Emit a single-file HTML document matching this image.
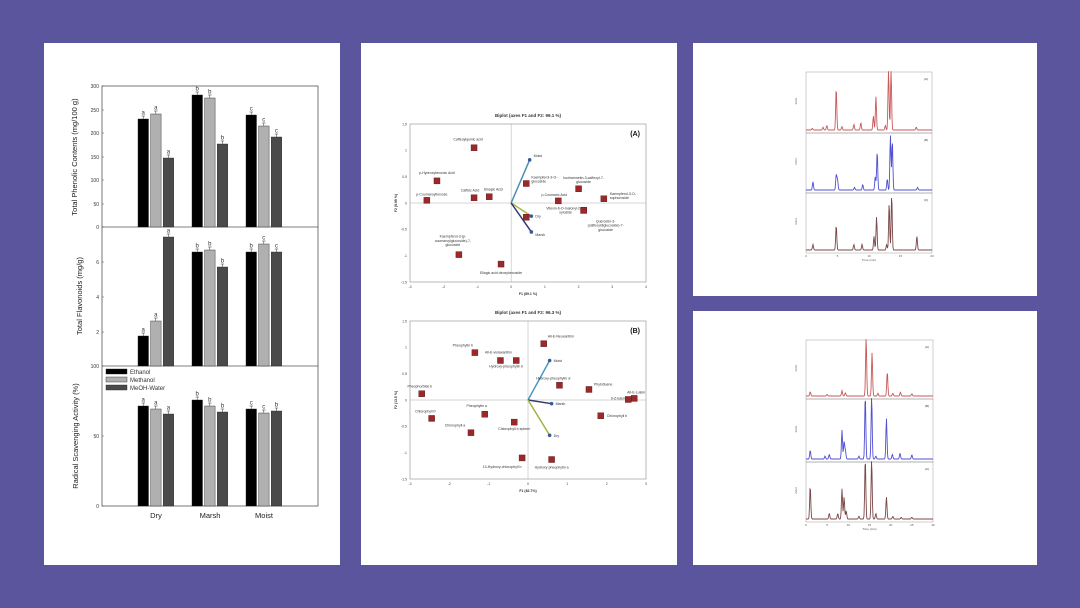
<!DOCTYPE html>
<html><head><meta charset="utf-8"><style>
html,body{margin:0;padding:0;background:#5a559c;}
svg{display:block;font-family:"Liberation Sans",sans-serif;}
</style></head><body>
<svg id="s" width="1080" height="608" viewBox="0 0 1080 608" xmlns="http://www.w3.org/2000/svg">
<rect width="1080" height="608" fill="#5a559c"/>
<rect x="44" y="43" width="296" height="522" fill="#fff"/>
<rect x="361" y="43" width="316" height="522" fill="#fff"/>
<rect x="693" y="43" width="344" height="253" fill="#fff"/>
<rect x="693" y="311" width="344" height="254" fill="#fff"/>
<g id="left"></g><g id="mid"></g><g id="right"></g>
</svg>
<script>
const NS="http://www.w3.org/2000/svg";
function el(p,t,a,txt){const e=document.createElementNS(NS,t);for(const k in a)e.setAttribute(k,a[k]);if(txt!==undefined)e.textContent=txt;p.appendChild(e);return e;}
// LEFT bar chart
const L=document.getElementById('left');
el(L,'rect',{x:102,y:86,width:216,height:420,fill:'none',stroke:'#555','stroke-width':0.8});
el(L,'line',{x1:102,y1:227,x2:318,y2:227,stroke:'#555','stroke-width':0.8});
el(L,'line',{x1:102,y1:366,x2:318,y2:366,stroke:'#555','stroke-width':0.8});
const gx=[138,192,246],cols=['#000','#b0b0b0','#4a4a4a'];
const tops=[[[119,114,158],[95,98,144],[115,126,137]],[[336,321,237],[252,250,267],[252,244,252]],[[406,409,414],[400,406,412],[409,413,411]]];
const bots=[227,366,506];
const letters=[[['a','a','a'],['b','b','b'],['c','c','c']],[['a','a','a'],['b','b','b'],['b','c','c']],[['a','a','a'],['b','b','b'],['c','c','b']]];
for(let p=0;p<3;p++)for(let g=0;g<3;g++)for(let b=0;b<3;b++){
 const x=gx[g]+b*12.6,t=tops[p][g][b];
 el(L,'rect',{x:x,y:t,width:10.5,height:bots[p]-t,fill:cols[b],stroke:'#222','stroke-width':0.4});
 el(L,'line',{x1:x+5.2,y1:t-3,x2:x+5.2,y2:t,stroke:'#333','stroke-width':0.5});
 el(L,'line',{x1:x+3.5,y1:t-3,x2:x+7,y2:t-3,stroke:'#333','stroke-width':0.5});
 el(L,'text',{x:x+5.2,y:t-4.5,'font-size':6,'text-anchor':'middle',fill:'#333'},letters[p][g][b]);
}
function tick(y,l){el(L,'line',{x1:102,y1:y,x2:104,y2:y,stroke:'#555','stroke-width':0.5});el(L,'text',{x:99,y:y+2,'font-size':5,'text-anchor':'end',fill:'#333'},l);}
[[300,86],[250,110],[200,133],[150,157],[100,180],[50,204],[0,227]].forEach(a=>tick(a[1],a[0]));
[[6,262],[4,297],[2,332]].forEach(a=>tick(a[1],a[0]));
tick(366,100);tick(436,50);tick(506,0);
[[77,157,'Total Phenolic Contents (mg/100 g)'],[82,296,'Total Flavonoids (mg/g)'],[78,436,'Radical Scavenging Activity (%)']].forEach(a=>{
 el(L,'text',{x:a[0],y:a[1],'font-size':7.5,'text-anchor':'middle',fill:'#222',transform:`rotate(-90 ${a[0]} ${a[1]})`},a[2]);});
[[156,'Dry'],[210,'Marsh'],[264,'Moist']].forEach(a=>el(L,'text',{x:a[0],y:518,'font-size':7.5,'text-anchor':'middle',fill:'#222'},a[1]));
['Ethanol','Methanol','MeOH-Water'].forEach((n,i)=>{el(L,'rect',{x:106,y:369+i*8,width:21,height:5,fill:cols[i],stroke:'#222','stroke-width':0.4});el(L,'text',{x:130,y:374+i*8,'font-size':6,fill:'#333'},n);});
// MIDDLE biplots
const M=document.getElementById('mid');
function biplot(fx0,fx1,fy0,fy1,xmin,xmax,title,tag,xl,yl,pts,arrows,xt){
 const sx=v=>fx0+(v-xmin)/(xmax-xmin)*(fx1-fx0), sy=v=>fy1-(v+1.5)/3*(fy1-fy0);
 el(M,'rect',{x:fx0,y:fy0,width:fx1-fx0,height:fy1-fy0,fill:'none',stroke:'#777','stroke-width':0.5});
 el(M,'line',{x1:fx0,y1:sy(0),x2:fx1,y2:sy(0),stroke:'#999','stroke-width':0.4});
 el(M,'line',{x1:sx(0),y1:fy0,x2:sx(0),y2:fy1,stroke:'#999','stroke-width':0.4});
 el(M,'text',{x:(fx0+fx1)/2,y:fy0-7,'font-size':4.5,'font-weight':'bold','text-anchor':'middle',fill:'#333'},title);
 el(M,'text',{x:fx1-6,y:fy0+12,'font-size':7,'font-weight':'bold','text-anchor':'end',fill:'#111'},tag);
 el(M,'text',{x:(fx0+fx1)/2,y:fy1+13,'font-size':3.5,'font-weight':'bold','text-anchor':'middle',fill:'#333'},xl);
 el(M,'text',{x:fx0-13,y:(fy0+fy1)/2,'font-size':3.5,'font-weight':'bold','text-anchor':'middle',fill:'#333',transform:`rotate(-90 ${fx0-13} ${(fy0+fy1)/2})`},yl);
 xt.forEach(v=>el(M,'text',{x:sx(v),y:fy1+6,'font-size':3.5,'text-anchor':'middle',fill:'#444'},v));
 [1.5,1,0.5,0,-0.5,-1,-1.5].forEach(v=>el(M,'text',{x:fx0-3,y:sy(v)+1.3,'font-size':3.5,'text-anchor':'end',fill:'#444'},v));
 arrows.forEach(a=>{el(M,'line',{x1:sx(0),y1:sy(0),x2:sx(a[0]),y2:sy(a[1]),stroke:a[2],'stroke-width':1.5});
  el(M,'circle',{cx:sx(a[0]),cy:sy(a[1]),r:1.8,fill:'#3a5a9a'});
  el(M,'text',{x:sx(a[0])+4,y:sy(a[1])+(a[4]||1.5),'font-size':3.5,fill:'#333'},a[3]);});
 pts.forEach(p=>{el(M,'rect',{x:sx(p[0])-3,y:sy(p[1])-3,width:6,height:6,fill:'#9a2a2a',stroke:'#5a1010','stroke-width':0.4});
  (p[2]||'').split('|').forEach((s,i)=>{if(s)el(M,'text',{x:sx(p[0])+p[3],y:sy(p[1])+p[4]+i*4.2,'font-size':3.5,'text-anchor':p[5]||'middle',fill:'#333'},s);});});
}
biplot(410,646,124,282,-3,4,'Biplot (axes F1 and F2: 99.1 %)','(A)','F1 (89.1 %)','F2 (9.99 %)',[
[-1.1,1.05,'Caffeoylquinic acid',-6,-7],[-2.2,0.42,'p-Hydroxybenzoic Acid',0,-7],[-2.5,0.05,'p-Coumaroylhexose',5,-5],
[-1.1,0.1,'Caffeic Acid',-4,-6],[-0.65,0.12,'Sinapic Acid',4,-6],[-1.55,-0.98,'Kaempferol-3-(p-|coumaroylglucoside)-7-|glucoside',-6,-17],
[-0.3,-1.16,'Ellagic acid deoxyhexoside',0,10],[0.45,0.37,'Kaempferol-3-O-|glucoside',5,-5,'start'],[1.4,0.04,'p-Coumaric Acid',-4,-5],
[2.0,0.27,'Isorhamnetin-3-caffeoyl-7-|glucoside',5,-10],[2.75,0.08,'Kaempferol-3-O-|sophoroside',6,-4,'start'],[2.15,-0.14,'Vitexin-6-O-malonyl-2-O-|xyloside',-18,-1],
[2.15,-0.14,'Quercetin-3-|(caffeoyldiglucoside)-7-|glucoside',22,12],[0.45,-0.27,'',0,0]],
[[0.55,0.82,'#4a8fb0','Moist',-3],[0.6,-0.25,'#a8b840','Dry'],[0.6,-0.55,'#303a70','Marsh',4]],[-3,-2,-1,0,1,2,3,4]);
biplot(410,646,321,479,-3,3,'Biplot (axes F1 and F2: 96.3 %)','(B)','F1 (82.7%)','F2 (13.5 %)',[
[-1.35,0.9,'Pheophytin b',-12,-6],[-0.7,0.75,'All-E-violaxanthin',-2,-7],[-0.3,0.75,'Hydroxy-pheophytin b',-10,7],
[-2.7,0.12,'Pheophorbide b',-2,-6],[-2.45,-0.35,'Chlorophyll b\'',-6,-6],[-1.1,-0.27,'Pheophytin a',-8,-7],
[-1.45,-0.62,'Chlorophyll a',-16,-6],[-0.35,-0.42,'Chlorophyll b epimer',0,8],[-0.15,-1.1,'13-Hydroxy-chlorophyll b',-20,10],
[0.4,1.07,'All-E-Neoxanthin',4,-6,'start'],[0.8,0.28,'Hydroxy-pheophytin a\'',-6,-6],[1.55,0.2,'Phytofluene',5,-4,'start'],
[2.7,0.03,'All-E-Lutein',2,-5],[2.55,0.01,'9-Z-lutein',-10,0],[1.85,-0.3,'Chlorophyll b',6,1,'start'],[0.6,-1.13,'Hydroxy-pheophytin a',0,9]],
[[0.55,0.75,'#4a9ac0','Moist'],[0.6,-0.07,'#303a70','Marsh'],[0.55,-0.67,'#a8b040','Dry']],[-3,-2,-1,0,1,2,3]);
// RIGHT chromatograms
const R=document.getElementById('right');
function chrom(x0,x1,ys,tmax,traces,lbl){
 const sx=t=>x0+t/tmax*(x1-x0);
 traces.forEach((tr,i)=>{const y0=ys[i],y1=ys[i+1]-3,h=y1-y0-2;
  el(R,'rect',{x:x0,y:y0,width:x1-x0,height:ys[i+1]-y0,fill:'none',stroke:'#888','stroke-width':0.4});
  let d='';for(let px=0;px<=(x1-x0)*2;px++){const t=px/2/(x1-x0)*tmax;let v=0;tr[1].forEach(p=>{v+=p[1]*Math.exp(-Math.pow((t-p[0])/(tmax*0.006),2));});
   d+=(px?'L':'M')+(x0+px/2).toFixed(1)+' '+(y1-Math.min(v,1.05)*h).toFixed(1);}
  el(R,'path',{d:d,fill:'none',stroke:tr[0],'stroke-width':0.9});
  el(R,'text',{x:x0-9,y:(y0+y1)/2,'font-size':3,fill:'#555',transform:`rotate(-90 ${x0-9} ${(y0+y1)/2})`,'text-anchor':'middle'},'mAU');
  el(R,'text',{x:x1-8,y:y0+8,'font-size':3,fill:'#333'},['(A)','(B)','(C)'][i]);
 });
 for(let t=0;t<=tmax;t+=5)el(R,'text',{x:sx(t),y:ys[3]+4,'font-size':3,'text-anchor':'middle',fill:'#555'},t);
 el(R,'text',{x:(x0+x1)/2,y:ys[3]+8,'font-size':3,'text-anchor':'middle',fill:'#555'},lbl);
}
chrom(806,932,[72,133,193,253],20,[
['#c85a5a',[[1,.03],[2.7,.05],[3.3,.08],[4.8,.75],[5.7,.06],[7.6,.1],[8.7,.13],[10.7,.25],[11.1,.6],[12.6,.08],[13.1,1.1],[13.5,1.1],[17.5,.05]]],
['#5050d0',[[1.1,.15],[4.8,.28],[5,.2],[7.7,.05],[9,.1],[11,.25],[11.3,.7],[12.9,.2],[13.4,1],[13.7,.9],[17.7,.05]]],
['#7a4848',[[1.1,.1],[4.8,.45],[7.6,.1],[8.9,.1],[10.8,.25],[11.2,.6],[12.8,.1],[13.2,.85],[13.6,1],[17.6,.25]]]],'Time (min)');
chrom(806,933,[340,399,462,522],30,[
['#c85a5a',[[1,.08],[5,.03],[8.5,.1],[9.3,.06],[14.2,1.1],[15.6,.8],[17,.05],[19.2,.45],[20.5,.05],[22.3,.07],[25,.04]]],
['#5050d0',[[1,.15],[4.5,.05],[5.5,.08],[8.5,.5],[9,.3],[9.3,.15],[12.5,.05],[14,1.1],[15.5,1.1],[16.5,.05],[19,.7],[20.4,.08],[22.2,.1],[25,.07]]],
['#7a4848',[[1,.6],[5.5,.1],[7.5,.1],[8.5,.55],[9,.4],[9.5,.15],[12.5,.05],[14,1.1],[15.5,1.1],[16.5,.1],[19,.4],[20.5,.05],[22.5,.03],[25,.03]]]],'Time (min)');
</script>
</body></html>
